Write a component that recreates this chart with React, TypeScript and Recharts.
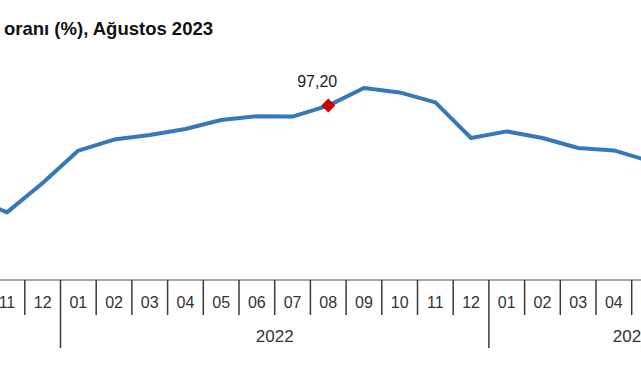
import { LineChart, Line, XAxis, YAxis } from "recharts";

// periods shown on the axis (year-month), Aug 2021 .. Aug 2023
const periods = [
  "2021-08", "2021-09", "2021-10", "2021-11", "2021-12",
  "2022-01", "2022-02", "2022-03", "2022-04", "2022-05", "2022-06",
  "2022-07", "2022-08", "2022-09", "2022-10", "2022-11", "2022-12",
  "2023-01", "2023-02", "2023-03", "2023-04", "2023-05", "2023-06",
  "2023-07", "2023-08",
];

// rate (%); null where the reference is cropped away
const rates: (number | null)[] = [
  null, null, 51.5, 43.8, 58.5,
  74.7, 80.2, 82.5, 85.5, 90.0, 91.9,
  91.7, 97.2, 106.0, 103.8, 98.8, 81.0,
  84.3, 81.0, 76.0, 74.8, 69.5, null,
  null, null,
];

const highlight = "2022-08";

const data = periods.map((p, i) => ({ period: p, rate: rates[i] }));

const STEP = 35.7;
const CHART_W = periods.length * STEP;
const FONT = "'Liberation Sans', Arial, sans-serif";

const yearOf = (p: string) => p.split("-")[0];
const monthOf = (p: string) => p.split("-")[1];

function PeriodTick(props: any) {
  const { x, y, payload } = props;
  const i = periods.indexOf(payload.value);
  const year = yearOf(payload.value);
  const left = x - STEP / 2;
  const yearStart = i === 0 || yearOf(periods[i - 1]) !== year;
  const count = periods.filter((p) => yearOf(p) === year).length;
  return (
    <g>
      <line
        x1={left}
        x2={left}
        y1={y}
        y2={y + (yearStart ? 68 : 35)}
        stroke="#3a3a3a"
        strokeWidth={1.5}
      />
      <text
        x={x}
        y={y + 28}
        textAnchor="middle"
        fontSize={16}
        fontFamily={FONT}
        fill="#333"
      >
        {monthOf(payload.value)}
      </text>
      {yearStart && (
        <text
          x={left + (count * STEP) / 2}
          y={y + 62}
          textAnchor="middle"
          fontSize={17}
          fontFamily={FONT}
          fill="#333"
        >
          {year}
        </text>
      )}
    </g>
  );
}

function HighlightDot(props: any) {
  const { cx, cy, payload, index } = props;
  if (payload.period !== highlight || cx == null) return <g key={index} />;
  const r = 7;
  return (
    <g key={index}>
      <polygon
        points={`${cx},${cy - r} ${cx + r},${cy} ${cx},${cy + r} ${cx - r},${cy}`}
        fill="#cc0000"
      />
      <text
        x={cx - 11}
        y={cy - 19}
        textAnchor="middle"
        fontSize={16}
        fontFamily={FONT}
        fill="#222"
      >
        {payload.rate.toFixed(2).replace(".", ",")}
      </text>
    </g>
  );
}

export default function App() {
  return (
    <div
      style={{
        position: "absolute",
        top: 0,
        left: 0,
        width: 641,
        height: 380,
        overflow: "hidden",
        background: "#fff",
      }}
    >
      <div
        style={{
          position: "absolute",
          left: 4,
          top: 20,
          fontFamily: FONT,
          fontWeight: "bold",
          fontSize: 18.5,
          lineHeight: "18px",
          color: "#111",
          whiteSpace: "nowrap",
          zIndex: 2,
        }}
      >
        oranı (%), Ağustos 2023
      </div>
      <div style={{ position: "absolute", left: -117.95, top: 0 }}>
        <LineChart
          width={CHART_W}
          height={380}
          data={data}
          margin={{ top: 0, right: 0, bottom: 0, left: 0 }}
        >
          <XAxis
            dataKey="period"
            interval={0}
            height={100}
            padding={{ left: STEP / 2, right: STEP / 2 }}
            tickSize={0}
            tickMargin={0}
            tickLine={false}
            axisLine={{ stroke: "#8a8a8a", strokeWidth: 1.5 }}
            tick={<PeriodTick />}
          />
          <YAxis hide domain={[10, 150]} />
          <Line
            type="linear"
            dataKey="rate"
            stroke="#3579b9"
            strokeWidth={4}
            strokeLinejoin="round"
            dot={<HighlightDot />}
            activeDot={false}
            isAnimationActive={false}
          />
        </LineChart>
      </div>
    </div>
  );
}
